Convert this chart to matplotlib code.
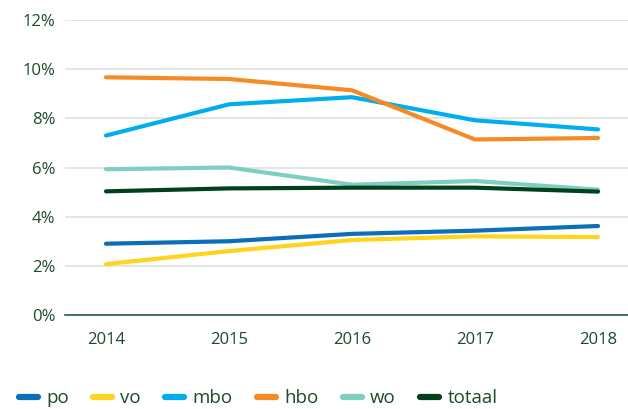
import matplotlib
matplotlib.use("Agg")
import matplotlib.pyplot as plt
from matplotlib.lines import Line2D

years = [2014, 2015, 2016, 2017, 2018]
series_names = ["po", "vo", "mbo", "hbo", "wo", "totaal"]
po = [2.9, 3.0, 3.3, 3.43, 3.62]
vo = [2.07, 2.6, 3.05, 3.2, 3.17]
mbo = [7.3, 8.57, 8.86, 7.92, 7.55]
hbo = [9.67, 9.6, 9.14, 7.14, 7.2]
wo = [5.93, 6.0, 5.3, 5.45, 5.1]
totaal = [5.03, 5.15, 5.18, 5.18, 5.02]
yticks = [0, 2, 4, 6, 8, 10, 12]
ytick_labels = ["0%", "2%", "4%", "6%", "8%", "10%", "12%"]

colors = ["#0a6fb8", "#ffd41f", "#00aeef", "#f68a24", "#7fcfc1", "#00401c"]
text_color = "#1c4a2a"

plt.rcParams['font.family'] = ['Open Sans', 'DejaVu Sans']

fig = plt.figure(figsize=(6.28, 4.09), dpi=100)
ax = fig.add_axes([65/628, (409-315)/409, 1 - 65/628, (315-20)/409])

data = [po, vo, mbo, hbo, wo, totaal]
for name, vals, c in zip(series_names, data, colors):
    ax.plot(years, vals, color=c, lw=3, solid_capstyle='round', solid_joinstyle='round', label=name)

ax.set_ylim(0, 12)
ax.set_xlim(2014 - 41/123, 2018 + 30/123)
ax.set_yticks(yticks)
ax.set_yticklabels(ytick_labels)
ax.set_xticks(years)
ax.set_xticklabels([str(y) for y in years])
ax.grid(axis='y', color='#dde3e2', lw=1.2)
ax.set_axisbelow(True)
for s in ['top', 'right', 'left']:
    ax.spines[s].set_visible(False)
ax.spines['bottom'].set_color('#2c5a3a')
ax.spines['bottom'].set_linewidth(1.2)
ax.tick_params(axis='both', length=0, labelsize=12, colors=text_color)
ax.tick_params(axis='y', pad=7)
ax.tick_params(axis='x', pad=12)

handles = [Line2D([0], [0], color=c, lw=4.5, solid_capstyle='round') for c in colors]
fig.legend(handles, series_names, loc='lower left', bbox_to_anchor=(0.003, -0.037), ncol=6,
           frameon=False, handlelength=1.0, handletextpad=0.45, columnspacing=1.3,
           prop={'size': 13.5}, labelcolor=text_color)

fig.savefig("out.png", dpi=100)
